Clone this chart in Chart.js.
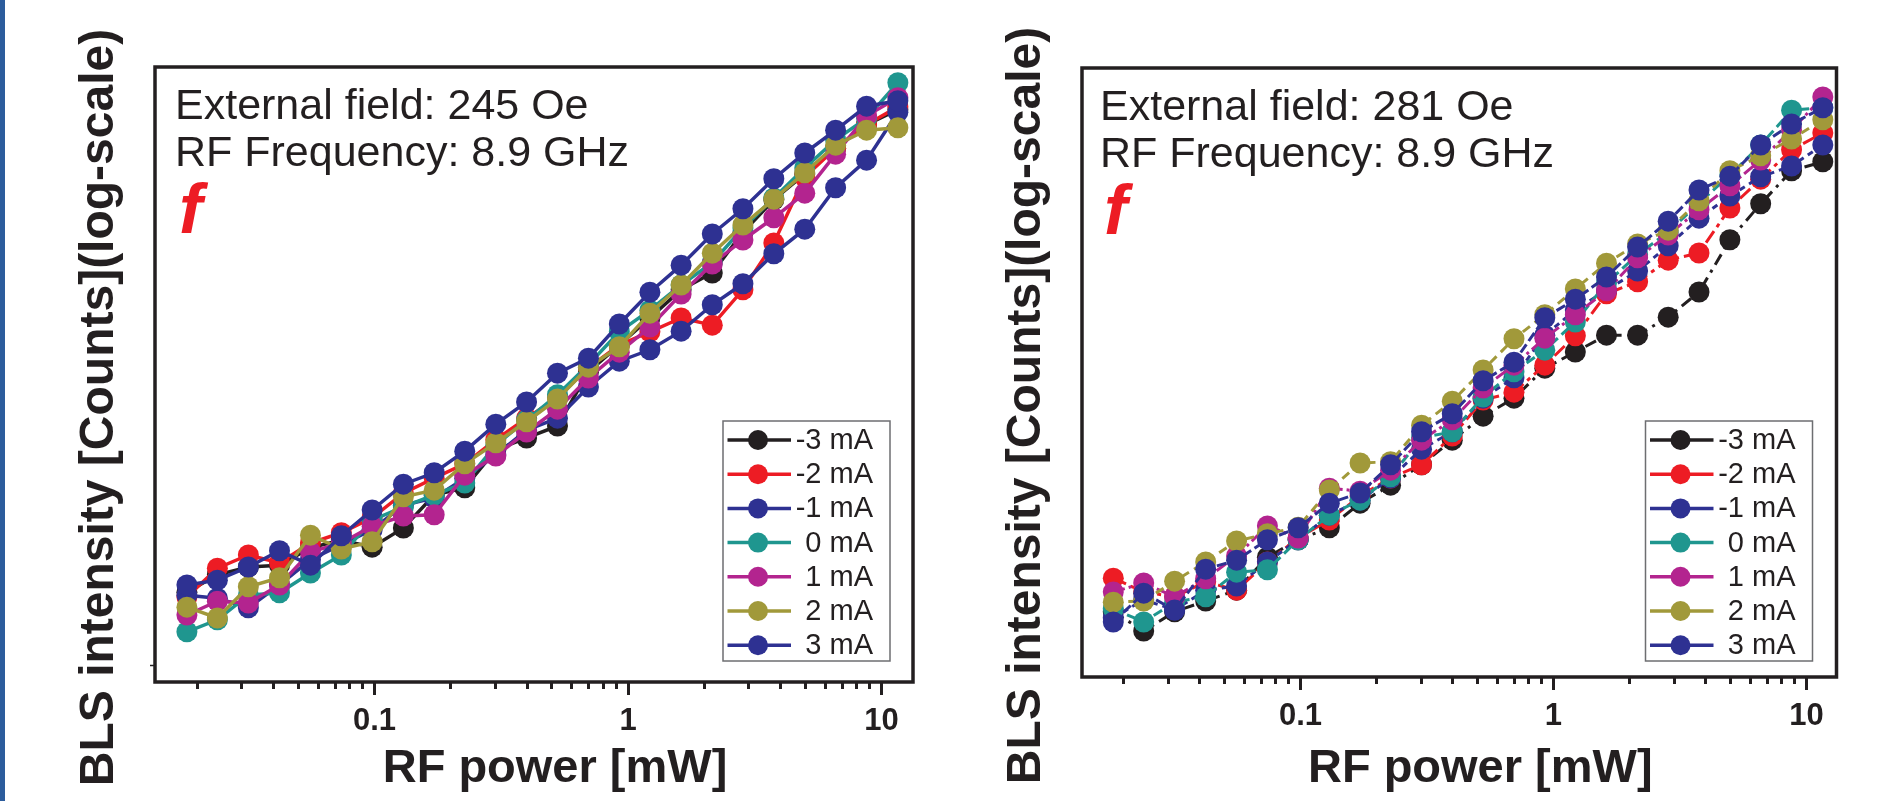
<!DOCTYPE html>
<html>
<head>
<meta charset="utf-8">
<script src="https://cdn.jsdelivr.net/npm/chart.js@4.4.0/dist/chart.umd.min.js"></script>
<style>
  html, body { margin: 0; padding: 0; background: #fff; }
  #pagina { position: relative; width: 1890px; height: 801px; overflow: hidden; }
  #faixa { position: absolute; left: 0; top: 0; width: 5px; height: 801px; background: #2c5c9c; }
  canvas { position: absolute; top: 0; }
  #grafEsq { left: 0; }
  #grafDir { left: 945px; }
</style>
</head>
<body>
<div id="pagina">
  <canvas id="grafEsq" width="945" height="801"></canvas>
  <canvas id="grafDir" width="945" height="801"></canvas>
  <div id="faixa"></div>
</div>
<script>
// potencia RF (mW) - eixo x, igual nos dois graficos
var potencia = [0.0182, 0.0240, 0.0318, 0.0422, 0.0559, 0.0740, 0.0979, 0.130, 0.172, 0.227, 0.301, 0.398,
                0.527, 0.698, 0.924, 1.22, 1.62, 2.15, 2.84, 3.76, 4.98, 6.59, 8.73, 11.6];
var correntes = ['-3 mA', '-2 mA', '-1 mA', '0 mA', '1 mA', '2 mA', '3 mA'];
var xTicksMaiores = [0.1, 1, 10];
var xTicksMenores = [0.02, 0.03, 0.04, 0.05, 0.06, 0.07, 0.08, 0.09,
                     0.2, 0.3, 0.4, 0.5, 0.6, 0.7, 0.8, 0.9,
                     2, 3, 4, 5, 6, 7, 8, 9];

// intensidade BLS em log10(contagens) - campo 245 Oe
var esq_m3 = [3.123, 3.152, 3.165, 3.168, 3.197, 3.210, 3.198, 3.230, 3.285, 3.297, 3.360, 3.380, 3.400, 3.490, 3.535, 3.580, 3.627, 3.655, 3.723, 3.777, 3.820, 3.863, 3.902, 3.927];
var esq_m2 = [3.115, 3.163, 3.185, 3.172, 3.205, 3.222, 3.247, 3.288, 3.313, 3.337, 3.377, 3.413, 3.447, 3.497, 3.535, 3.557, 3.580, 3.568, 3.627, 3.705, 3.815, 3.863, 3.902, 3.932];
var esq_m1 = [3.118, 3.113, 3.097, 3.135, 3.177, 3.202, 3.227, 3.268, 3.280, 3.313, 3.352, 3.393, 3.413, 3.465, 3.508, 3.527, 3.558, 3.602, 3.637, 3.687, 3.728, 3.797, 3.843, 3.923];
var esq_0  = [3.057, 3.077, 3.118, 3.122, 3.155, 3.185, 3.243, 3.265, 3.285, 3.305, 3.368, 3.410, 3.452, 3.502, 3.557, 3.593, 3.635, 3.672, 3.730, 3.780, 3.830, 3.877, 3.913, 3.972];
var esq_1  = [3.085, 3.108, 3.105, 3.135, 3.190, 3.205, 3.233, 3.250, 3.252, 3.318, 3.350, 3.390, 3.428, 3.480, 3.523, 3.565, 3.620, 3.670, 3.710, 3.747, 3.788, 3.853, 3.917, 3.947];
var esq_2  = [3.098, 3.080, 3.132, 3.147, 3.218, 3.195, 3.207, 3.282, 3.293, 3.337, 3.372, 3.407, 3.445, 3.498, 3.532, 3.588, 3.635, 3.688, 3.735, 3.778, 3.822, 3.868, 3.893, 3.897];
var esq_3  = [3.135, 3.143, 3.165, 3.192, 3.168, 3.217, 3.260, 3.303, 3.322, 3.358, 3.403, 3.440, 3.488, 3.513, 3.570, 3.623, 3.668, 3.720, 3.762, 3.812, 3.855, 3.893, 3.933, 3.942];

// campo 281 Oe
var dir_m3 = [3.082, 3.050, 3.082, 3.100, 3.118, 3.173, 3.202, 3.222, 3.263, 3.293, 3.327, 3.368, 3.408, 3.438, 3.488, 3.515, 3.543, 3.543, 3.573, 3.615, 3.702, 3.762, 3.817, 3.832];
var dir_m2 = [3.138, 3.115, 3.107, 3.132, 3.118, 3.165, 3.205, 3.235, 3.275, 3.305, 3.327, 3.375, 3.435, 3.448, 3.493, 3.542, 3.612, 3.632, 3.668, 3.680, 3.755, 3.803, 3.852, 3.880];
var dir_m1 = [3.072, 3.102, 3.085, 3.118, 3.125, 3.165, 3.202, 3.243, 3.268, 3.305, 3.353, 3.382, 3.438, 3.472, 3.543, 3.585, 3.618, 3.650, 3.692, 3.738, 3.775, 3.807, 3.825, 3.860];
var dir_0  = [3.087, 3.065, 3.098, 3.107, 3.148, 3.152, 3.202, 3.243, 3.268, 3.307, 3.372, 3.382, 3.440, 3.482, 3.518, 3.565, 3.630, 3.677, 3.715, 3.763, 3.810, 3.860, 3.918, 3.922];
var dir_1  = [3.115, 3.130, 3.107, 3.137, 3.175, 3.225, 3.205, 3.288, 3.283, 3.318, 3.368, 3.402, 3.455, 3.493, 3.538, 3.577, 3.617, 3.672, 3.710, 3.752, 3.792, 3.835, 3.885, 3.940];
var dir_2  = [3.098, 3.100, 3.133, 3.165, 3.200, 3.212, 3.223, 3.285, 3.330, 3.332, 3.393, 3.433, 3.485, 3.537, 3.577, 3.620, 3.663, 3.695, 3.718, 3.767, 3.817, 3.842, 3.870, 3.902];
var dir_3  = [3.065, 3.113, 3.085, 3.153, 3.168, 3.202, 3.222, 3.263, 3.280, 3.327, 3.382, 3.412, 3.467, 3.498, 3.572, 3.603, 3.640, 3.690, 3.733, 3.785, 3.808, 3.860, 3.895, 3.922];

var cores = ['#231f20', '#ed1c24', '#2e3192', '#1f968f', '#b3248f', '#a1993a', '#2e3192'];
var tracosDir = [[12, 6, 3, 6], [14, 5, 4, 5], [6, 5], [10, 5], [12, 4, 3, 4], [9, 6], [10, 4]];

var fonte = '"Liberation Sans", Arial, sans-serif';
Chart.defaults.font.family = fonte;

// textos, moldura e legenda desenhados por cima
var desenhos = {
    id: 'desenhos',
    afterDraw: function (chart, args, opts) {
        var ctx = chart.ctx;
        var a = chart.chartArea;
        ctx.save();
        ctx.setLineDash([]);

        // moldura
        ctx.strokeStyle = '#231f20';
        ctx.lineWidth = 3.5;
        ctx.strokeRect(a.left, a.top, a.right - a.left, a.bottom - a.top);

        // anotacoes
        ctx.fillStyle = '#231f20';
        ctx.textAlign = 'left';
        ctx.textBaseline = 'alphabetic';
        ctx.font = '43px ' + fonte;
        ctx.fillText('External field: ' + opts.campo, a.left + opts.textoDx, a.top + 52);
        ctx.fillText('RF Frequency: 8.9 GHz', a.left + opts.textoDx, a.top + 99);
        ctx.fillStyle = '#ed1c24';
        ctx.font = 'italic bold 70px ' + fonte;
        ctx.fillText('f', a.left + opts.textoDx + 4, a.top + 166);

        // titulos dos eixos
        ctx.fillStyle = '#231f20';
        ctx.textAlign = 'center';
        ctx.font = 'bold 47px ' + fonte;
        ctx.fillText('RF power [mW]', (a.left + a.right) / 2 + 21, 782);
        ctx.save();
        ctx.translate(a.left - 42, (a.top + a.bottom) / 2 + 33);
        ctx.rotate(-Math.PI / 2);
        ctx.font = 'bold 48px ' + fonte;
        ctx.fillText('BLS intensity [Counts](log-scale)', 0, 0);
        ctx.restore();

        // legenda
        var w = 167, h = 240;
        var bx = a.right - opts.legDx - w;
        var by = a.bottom - opts.legDy - h;
        ctx.strokeStyle = '#6d6e71';
        ctx.lineWidth = 1.5;
        ctx.strokeRect(bx, by, w, h);
        ctx.font = '29px ' + fonte;
        ctx.textAlign = 'right';
        ctx.textBaseline = 'middle';
        chart.data.datasets.forEach(function (ds, i) {
            var y = by + 19 + i * 34.2;
            ctx.strokeStyle = ds.borderColor;
            ctx.lineWidth = 3.5;
            ctx.beginPath();
            ctx.moveTo(bx + 4.5, y);
            ctx.lineTo(bx + 68, y);
            ctx.stroke();
            ctx.fillStyle = ds.borderColor;
            ctx.beginPath();
            ctx.arc(bx + 35, y, 10, 0, Math.PI * 2);
            ctx.fill();
            ctx.fillStyle = '#231f20';
            ctx.fillText(ds.label, bx + w - 17, y + 1);
        });
        ctx.restore();
    }
};

function montarDatasets(series, tracos, espessura) {
    return series.map(function (serie, i) {
        return {
            label: correntes[i],
            data: potencia.map(function (p, k) { return { x: p, y: Math.pow(10, serie[k]) }; }),
            borderColor: cores[i],
            backgroundColor: cores[i],
            borderWidth: espessura,
            borderDash: tracos ? tracos[i] : [],
            pointRadius: 10.5,
            pointBorderWidth: 0,
            pointBackgroundColor: cores[i],
            tension: 0,
            clip: false,
            order: series.length - 1 - i
        };
    });
}

function criarGrafico(id, series, cfg) {
    var ticksX = xTicksMenores.map(function (v) { return { value: v, major: false }; })
        .concat(xTicksMaiores.map(function (v) { return { value: v, major: true }; }))
        .sort(function (p, q) { return p.value - q.value; });

    return new Chart(document.getElementById(id), {
        type: 'line',
        data: { datasets: montarDatasets(series, cfg.tracos, cfg.espessura) },
        options: {
            responsive: false,
            animation: false,
            events: [],
            layout: { padding: { left: 0, right: 945 - cfg.dir, top: cfg.topo, bottom: 0 } },
            plugins: {
                legend: { display: false },
                tooltip: { enabled: false },
                desenhos: { campo: cfg.campo, textoDx: cfg.textoDx, legDx: cfg.legDx, legDy: cfg.legDy }
            },
            scales: {
                x: {
                    type: 'logarithmic',
                    position: 'bottom',
                    min: cfg.xmin,
                    max: cfg.xmax,
                    border: { display: false },
                    grid: {
                        drawOnChartArea: false,
                        drawTicks: true,
                        tickLength: 13,
                        tickWidth: 3,
                        tickColor: '#231f20',
                        tickBorderDash: function (c) {
                            return (c.tick && c.tick.major) ? [] : [7, 40];
                        }
                    },
                    ticks: {
                        autoSkip: false,
                        maxRotation: 0,
                        padding: 8,
                        color: '#231f20',
                        font: { size: 31, weight: 'bold' },
                        major: { enabled: false },
                        callback: function (v) { return xTicksMaiores.indexOf(v) >= 0 ? String(v) : ''; }
                    },
                    afterBuildTicks: function (s) { s.ticks = ticksX.slice(); },
                    afterFit: function (s) { s.height = 801 - cfg.base; }
                },
                y: {
                    type: 'logarithmic',
                    min: Math.pow(10, cfg.ymin),
                    max: Math.pow(10, cfg.ymax),
                    border: { display: false },
                    grid: {
                        display: cfg.tickY !== null,
                        drawOnChartArea: false,
                        tickLength: 5,
                        tickWidth: 1.5,
                        tickColor: '#231f20'
                    },
                    ticks: { display: false },
                    afterBuildTicks: function (s) {
                        s.ticks = cfg.tickY !== null ? [{ value: cfg.tickY }] : [];
                    },
                    afterFit: function (s) { s.width = cfg.esq; }
                }
            }
        },
        plugins: [desenhos]
    });
}

var graficoEsq = criarGrafico('grafEsq', [esq_m3, esq_m2, esq_m1, esq_0, esq_1, esq_2, esq_3], {
    esq: 155, dir: 913, topo: 67, base: 682,
    xmin: 0.01362, xmax: 13.31, ymin: 2.9733, ymax: 3.9983, tickY: 1000,
    campo: '245 Oe', textoDx: 20, legDx: 23, legDy: 21, tracos: null, espessura: 3.5
});

var graficoDir = criarGrafico('grafDir', [dir_m3, dir_m2, dir_m1, dir_0, dir_1, dir_2, dir_3], {
    esq: 137, dir: 891.5, topo: 68, base: 677,
    xmin: 0.01369, xmax: 13.14, ymin: 2.9733, ymax: 3.9883, tickY: null,
    campo: '281 Oe', textoDx: 18, legDx: 24, legDy: 16, tracos: tracosDir, espessura: 3
});
</script>
</body>
</html>
